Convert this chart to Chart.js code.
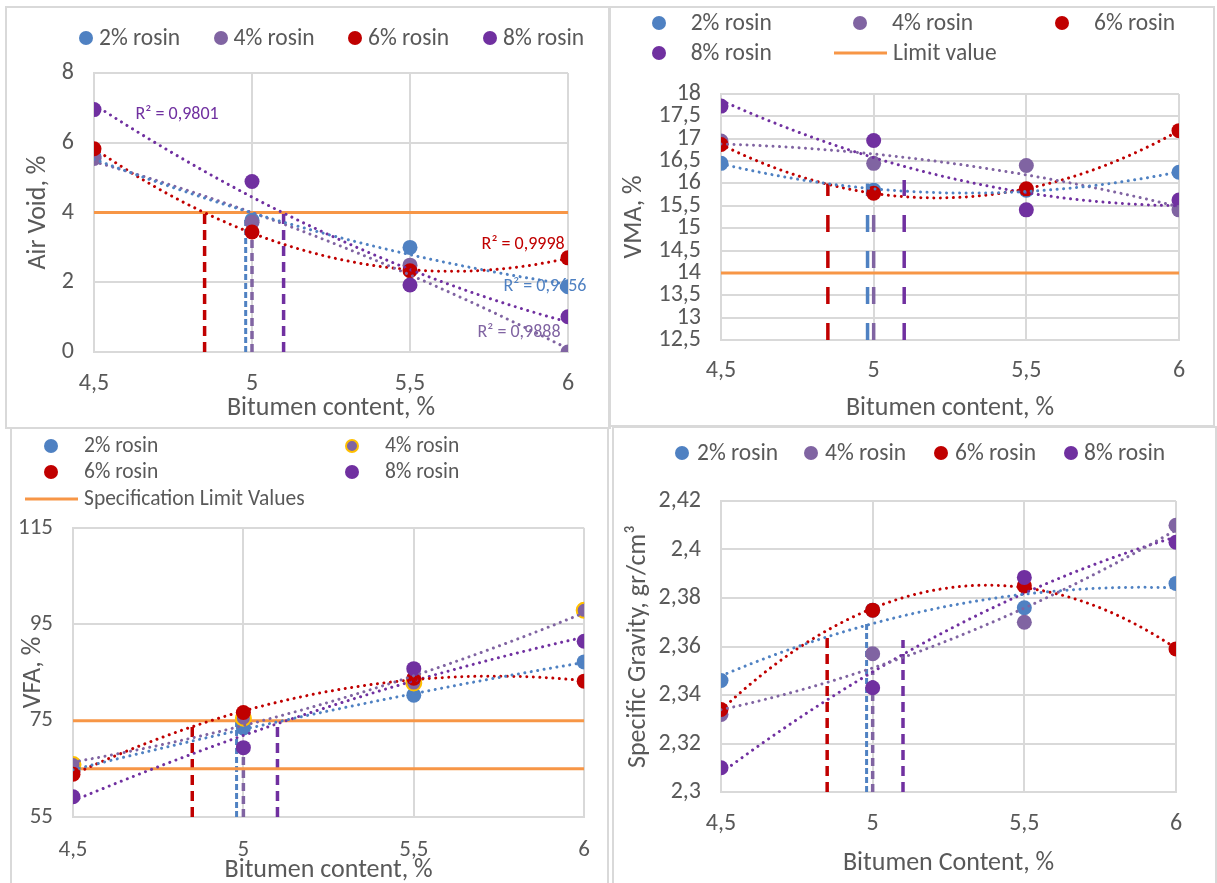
<!DOCTYPE html>
<html>
<head>
<meta charset="utf-8">
<title>Marshall mix design properties vs bitumen content</title>
<script src="https://cdn.jsdelivr.net/npm/chart.js@4.4.1/dist/chart.umd.min.js"></script>
<style>
  html, body { margin: 0; padding: 0; background: #fff; }
  body { width: 1217px; height: 883px; position: relative; overflow: hidden;
         font-family: Carlito, Lato, sans-serif; color: #595959; }
  .panel { position: absolute; box-sizing: border-box; border: 2px solid #d9d9d9; }
  canvas { position: absolute; }
  .lg { position: absolute; white-space: nowrap; line-height: 1; transform: translateY(-50%); }
  .dot { position: absolute; border-radius: 50%; box-sizing: border-box; transform: translate(-50%, -50%); }
  .ln { position: absolute; height: 3px; transform: translateY(-50%); }
</style>
</head>
<body>
<div class="panel" style="left:5px;top:6px;width:606px;height:423px"></div>
<div class="panel" style="left:608px;top:6px;width:607px;height:421px"></div>
<div class="panel" style="left:10px;top:427px;width:599px;height:470px"></div>
<div class="panel" style="left:612px;top:426px;width:605px;height:470px"></div>

<canvas id="airVoidChart" width="603" height="421" style="left:6px;top:7px"></canvas>
<canvas id="vmaChart" width="605" height="420" style="left:609px;top:7px"></canvas>
<canvas id="vfaChart" width="598" height="455" style="left:11px;top:428px"></canvas>
<canvas id="gmbChart" width="603" height="456" style="left:613px;top:427px"></canvas>

<div id="legends"></div>

<script>
// ---- data -------------------------------------------------------------
const bitumenContent = [4.5, 5, 5.5, 6];
const seriesNames = ['2% rosin', '4% rosin', '6% rosin', '8% rosin'];
const xTickLabels = ['4,5', '5', '5,5', '6'];

// Air void, %
const airVoid2 = [5.6, 3.78, 3.0, 1.87];
const airVoid4 = [5.55, 3.72, 2.49, 0.0];
const airVoid6 = [5.83, 3.44, 2.33, 2.7];
const airVoid8 = [6.95, 4.89, 1.92, 1.01];

// VMA, %
const vma2 = [16.45, 15.85, 15.85, 16.25];
const vma4 = [16.95, 16.45, 16.4, 15.41];
const vma6 = [16.87, 15.78, 15.88, 17.18];
const vma8 = [17.73, 16.96, 15.41, 15.63];

// VFA, %
const vfa2 = [64.7, 73.5, 80.3, 87.2];
const vfa4 = [65.9, 75.5, 82.8, 97.9];
const vfa6 = [63.9, 76.7, 83.8, 83.2];
const vfa8 = [59.2, 69.4, 85.8, 91.5];

// Specific gravity, gr/cm3
const gmb2 = [2.346, 2.375, 2.376, 2.386];
const gmb4 = [2.332, 2.357, 2.370, 2.410];
const gmb6 = [2.334, 2.375, 2.385, 2.359];
const gmb8 = [2.310, 2.343, 2.3885, 2.403];

// optimum bitumen content per rosin dosage (2, 4, 6, 8 %) and guide heights
const optimumBitumen = [4.98, 5.0, 4.85, 5.1];
const airVoidAtOptimum = [3.8, 3.7, 4.0, 4.0];
const vmaAtOptimum = [16.0, 16.0, 16.0, 16.08];
const vfaAtOptimum = [75.0, 70.0, 73.7, 74.8];
const gmbAtOptimum = [2.3705, 2.35, 2.364, 2.3627];

// specification limits
const airVoidLimits = [4];
const vmaLimits = [14];
const vfaLimits = [75, 65];

// R² of the air void trendlines (2, 4, 6, 8 %)
const airVoidR2 = ['0,9656', '0,9888', '0,9998', '0,9801'];

// ---- styling ----------------------------------------------------------
const COLORS = ['#4f81c2', '#8064a2', '#c00000', '#7030a0'];
const ORANGE = '#f79646';
const GRID = '#d9d9d9';
const TEXT = '#595959';
const FONT = 'Carlito, Lato, sans-serif';

// least-squares quadratic trendline sampled across the bitumen range
function quadTrend(xs, ys, steps) {
  const m = xs.reduce((a, b) => a + b, 0) / xs.length;
  const S = [0, 0, 0, 0, 0], T = [0, 0, 0];
  xs.forEach((x, i) => {
    const u = x - m; let p = 1;
    for (let k = 0; k < 5; k++) { S[k] += p; if (k < 3) T[k] += p * ys[i]; p *= u; }
  });
  const A = [[S[0], S[1], S[2], T[0]], [S[1], S[2], S[3], T[1]], [S[2], S[3], S[4], T[2]]];
  for (let c = 0; c < 3; c++) {
    for (let r = c + 1; r < 3; r++) {
      const f = A[r][c] / A[c][c];
      for (let k = c; k < 4; k++) A[r][k] -= f * A[c][k];
    }
  }
  const coef = [0, 0, 0];
  for (let r = 2; r >= 0; r--) {
    let s = A[r][3];
    for (let k = r + 1; k < 3; k++) s -= A[r][k] * coef[k];
    coef[r] = s / A[r][r];
  }
  const x0 = xs[0], x1 = xs[xs.length - 1], pts = [];
  for (let i = 0; i <= steps; i++) {
    const x = x0 + (x1 - x0) * i / steps, u = x - m;
    pts.push({ x, y: coef[0] + coef[1] * u + coef[2] * u * u });
  }
  return pts;
}

const comma = v => String(v).replace('.', ',');

function buildChart(p) {
  const datasets = [];
  // vertical guides at the optimum bitumen contents
  optimumBitumen.forEach((x, i) => {
    datasets.push({
      data: [{ x, y: p.yMin }, { x, y: p.guideTops[i] }],
      borderColor: COLORS[i], borderWidth: p.guideWidth[i], borderDash: p.guideDash[i],
      pointRadius: 0, fill: false, order: 40 + i
    });
  });
  // specification limit lines
  p.limits.forEach(v => {
    datasets.push({
      data: [{ x: bitumenContent[0], y: v }, { x: bitumenContent[bitumenContent.length - 1], y: v }],
      borderColor: ORANGE, borderWidth: 3, pointRadius: 0, fill: false, order: 30
    });
  });
  // measured points
  p.series.forEach((ys, i) => {
    const ring = p.ring && p.ring[i];
    datasets.push({
      label: seriesNames[i],
      data: bitumenContent.map((x, j) => ({ x, y: ys[j] })),
      showLine: false, pointRadius: 7.5, pointHoverRadius: 7.5,
      pointBackgroundColor: COLORS[i],
      pointBorderColor: ring || COLORS[i], pointBorderWidth: ring ? 2 : 0,
      order: 8 - i
    });
  });
  // polynomial (order 2) trendlines, dotted
  p.series.forEach((ys, i) => {
    datasets.push({
      data: quadTrend(bitumenContent, ys, 90),
      borderColor: COLORS[i], borderWidth: 3, borderDash: [0.01, 6.5], borderCapStyle: 'round',
      pointRadius: 0, fill: false, tension: 0, order: 1
    });
  });

  const plot = p.plot, box = p.box;
  return new Chart(document.getElementById(p.id), {
    type: 'line',
    data: { datasets },
    plugins: p.plugins || [],
    options: {
      responsive: false, animation: false, events: [],
      layout: { padding: { top: plot.top - box.top, right: box.left + box.width - plot.right, left: 0, bottom: 0 } },
      plugins: { legend: { display: false }, tooltip: { enabled: false } },
      scales: {
        x: {
          type: 'linear', min: 4.5, max: 6,
          afterFit: s => { s.height = box.top + box.height - plot.bottom; },
          afterBuildTicks: s => { s.ticks = bitumenContent.map(v => ({ value: v })); },
          ticks: { padding: p.xPad, color: TEXT, font: { family: FONT, size: p.tickSize },
                   autoSkip: false, maxRotation: 0,
                   callback: (v) => xTickLabels[bitumenContent.indexOf(v)] },
          grid: { color: GRID, lineWidth: 2, drawTicks: false },
          border: { color: GRID, width: 2 },
          title: { display: true, text: p.xTitle, color: TEXT,
                   font: { family: FONT, size: p.titleSize, lineHeight: 1 },
                   padding: { top: 0, bottom: p.xTitlePad } }
        },
        y: {
          type: 'linear', min: p.yMin, max: p.yMax,
          afterFit: s => { s.width = plot.left - box.left; },
          ticks: { stepSize: p.yStep, padding: p.yPad, color: TEXT, font: { family: FONT, size: p.tickSize },
                   autoSkip: false,
                   callback: v => comma(Math.round(v * 1000) / 1000) },
          grid: { color: GRID, lineWidth: 2, drawTicks: false },
          border: { color: GRID, width: 2 },
          title: { display: true, text: p.yTitle, color: TEXT,
                   font: { family: FONT, size: p.titleSize, lineHeight: 1 },
                   padding: { top: p.yTitlePad, bottom: 0 } }
        }
      }
    }
  });
}

// R² annotations next to the air void trendlines
const r2Labels = {
  id: 'r2Labels',
  afterDatasetsDraw(chart) {
    const anchors = [[5.927, 1.89], [5.845, 0.57], [5.858, 3.09], [4.763, 6.8]];
    const { ctx, scales: { x, y } } = chart;
    ctx.save();
    ctx.font = '18px ' + FONT;
    ctx.textAlign = 'center';
    ctx.textBaseline = 'middle';
    airVoidR2.forEach((r, i) => {
      ctx.fillStyle = COLORS[i];
      ctx.fillText('R² = ' + r, x.getPixelForValue(anchors[i][0]), y.getPixelForValue(anchors[i][1]));
    });
    ctx.restore();
  }
};

const longDash = [[17, 19], [17, 19], [17, 19], [17, 19]];
const shortDash = [[6, 3], [8, 5], [10, 6], [10, 6]];

buildChart({
  id: 'airVoidChart', box: { left: 6, top: 7, width: 603, height: 421 },
  plot: { left: 94, top: 73, right: 568, bottom: 352 },
  series: [airVoid2, airVoid4, airVoid6, airVoid8],
  yMin: 0, yMax: 8, yStep: 2, limits: airVoidLimits,
  guideTops: airVoidAtOptimum, guideDash: shortDash, guideWidth: [3, 3.5, 3.5, 3.5],
  xTitle: 'Bitumen content, %', yTitle: 'Air Void, %',
  tickSize: 24, titleSize: 26, xPad: 18, yPad: 20, xTitlePad: 7, yTitlePad: 19,
  plugins: [r2Labels]
});

buildChart({
  id: 'vmaChart', box: { left: 609, top: 7, width: 605, height: 420 },
  plot: { left: 721, top: 94, right: 1179, bottom: 340 },
  series: [vma2, vma4, vma6, vma8],
  yMin: 12.5, yMax: 18, yStep: 0.5, limits: vmaLimits,
  guideTops: vmaAtOptimum, guideDash: longDash, guideWidth: [3.5, 3.5, 3.5, 3.5],
  xTitle: 'Bitumen content, %', yTitle: 'VMA, %',
  tickSize: 24, titleSize: 26, xPad: 17, yPad: 20, xTitlePad: 6, yTitlePad: 12
});

buildChart({
  id: 'vfaChart', box: { left: 11, top: 428, width: 598, height: 455 },
  plot: { left: 73, top: 528, right: 589.5, bottom: 817 },
  series: [vfa2, vfa4, vfa6, vfa8], ring: [null, '#ffc000', null, null],
  yMin: 55, yMax: 115, yStep: 20, limits: vfaLimits,
  guideTops: vfaAtOptimum, guideDash: shortDash, guideWidth: [3, 3.5, 3.5, 3.5],
  xTitle: 'Bitumen content, %', yTitle: 'VFA, %',
  tickSize: 23, titleSize: 26, xPad: 19, yPad: 20, xTitlePad: 0, yTitlePad: 9
});

buildChart({
  id: 'gmbChart', box: { left: 613, top: 427, width: 603, height: 456 },
  plot: { left: 721, top: 501, right: 1176, bottom: 792 },
  series: [gmb2, gmb4, gmb6, gmb8],
  yMin: 2.3, yMax: 2.42, yStep: 0.02, limits: [],
  guideTops: gmbAtOptimum, guideDash: shortDash, guideWidth: [3, 3.5, 3.5, 3.5],
  xTitle: 'Bitumen Content, %', yTitle: 'Specific Gravity, gr/cm³',
  tickSize: 24, titleSize: 26, xPad: 18, yPad: 20, xTitlePad: 7, yTitlePad: 12
});

// ---- legends -----------------------------------------------------------
const legendItems = [
  // air void panel
  { s: 0, dx: 85.6, tx: 99, y: 38, f: 23.5 }, { s: 1, dx: 220.6, tx: 233.5, y: 38, f: 23.5 },
  { s: 2, dx: 355, tx: 368, y: 38, f: 23.5 }, { s: 3, dx: 490, tx: 503, y: 38, f: 23.5 },
  // VMA panel
  { s: 0, dx: 658.5, tx: 690.7, y: 23, f: 23.5 }, { s: 1, dx: 860, tx: 892, y: 23, f: 23.5 },
  { s: 2, dx: 1062, tx: 1094, y: 23, f: 23.5 }, { s: 3, dx: 658.5, tx: 690.7, y: 53, f: 23.5 },
  { line: [834, 887], tx: 893, y: 53, f: 23.5, text: 'Limit value' },
  // VFA panel
  { s: 0, dx: 51, tx: 84, y: 446, f: 21.5 }, { s: 1, dx: 352, tx: 385, y: 446, f: 21.5, ring: '#ffc000' },
  { s: 2, dx: 51, tx: 84, y: 472, f: 21.5 }, { s: 3, dx: 352, tx: 385, y: 472, f: 21.5 },
  { line: [25, 78], tx: 84, y: 499, f: 21.5, text: 'Specification Limit Values' },
  // specific gravity panel
  { s: 0, dx: 682, tx: 697, y: 453, f: 23.5 }, { s: 1, dx: 811, tx: 825, y: 453, f: 23.5 },
  { s: 2, dx: 941, tx: 955, y: 453, f: 23.5 }, { s: 3, dx: 1071, tx: 1084, y: 453, f: 23.5 }
];
const lgRoot = document.getElementById('legends');
legendItems.forEach(it => {
  if (it.line) {
    const l = document.createElement('div');
    l.className = 'ln';
    l.style.cssText = `left:${it.line[0]}px;top:${it.y}px;width:${it.line[1] - it.line[0]}px;background:${ORANGE}`;
    lgRoot.appendChild(l);
  } else {
    const d = document.createElement('div');
    d.className = 'dot';
    d.style.cssText = `left:${it.dx}px;top:${it.y}px;width:14px;height:14px;background:${COLORS[it.s]};` +
      (it.ring ? `border:2px solid ${it.ring};` : '');
    lgRoot.appendChild(d);
  }
  const t = document.createElement('div');
  t.className = 'lg';
  t.style.cssText = `left:${it.tx}px;top:${it.y}px;font-size:${it.f}px`;
  t.textContent = it.text || seriesNames[it.s];
  lgRoot.appendChild(t);
});
</script>
</body>
</html>
